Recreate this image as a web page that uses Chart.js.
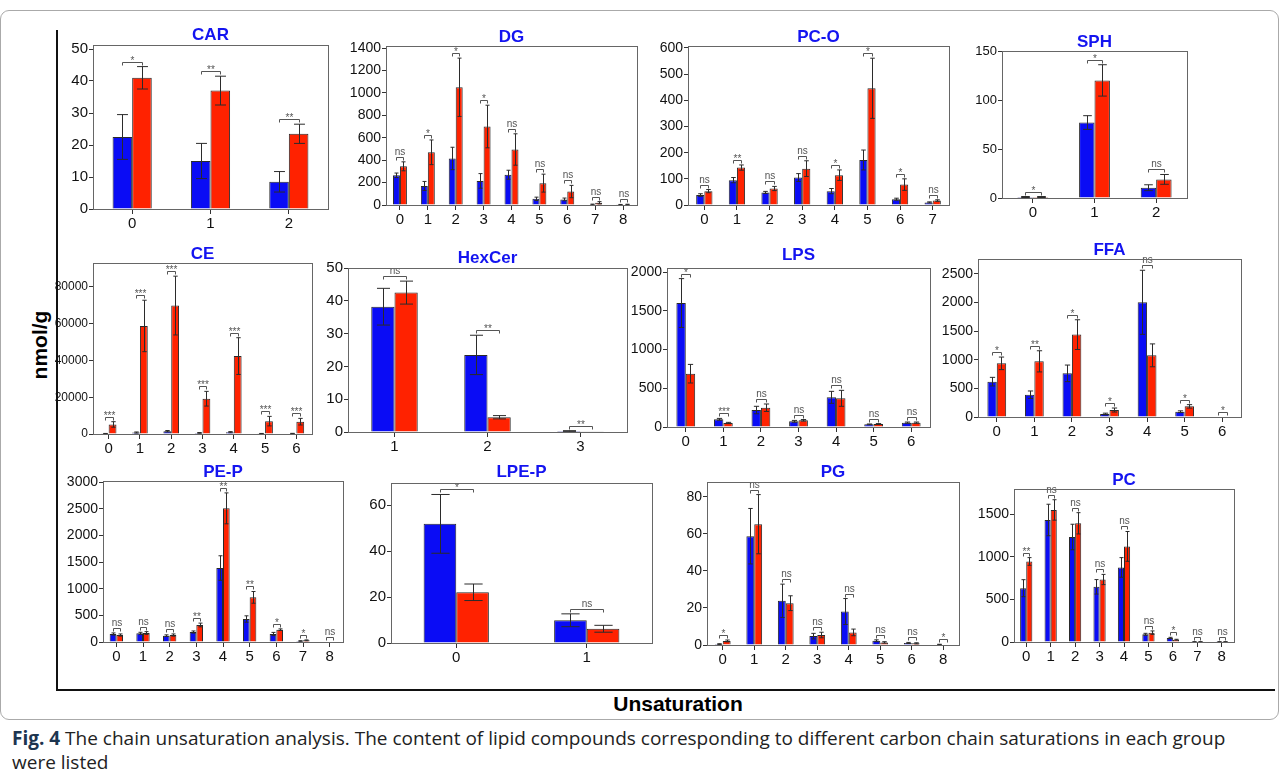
<!DOCTYPE html>
<html>
<head>
<meta charset="utf-8">
<script src="https://cdn.jsdelivr.net/npm/chart.js@4.4.0/dist/chart.umd.min.js"></script>
<style>
  body { margin: 0; background: #fff; width: 1281px; height: 780px; overflow: hidden; position: relative; font-family: "Liberation Sans", Arial, sans-serif; }
  canvas { position: absolute; }
  #frame { position: absolute; left: 0; top: 10px; width: 1277px; height: 708px; border: 1px solid #aaa; border-radius: 9px; }
  #axisL { position: absolute; left: 56px; top: 30px; width: 2px; height: 661px; background: #111; }
  #axisB { position: absolute; left: 56px; top: 689px; width: 1219px; height: 2px; background: #111; }
  #ylab { position: absolute; left: 40px; top: 345px; transform: translate(-50%, -50%) rotate(-90deg); font-weight: bold; font-size: 21px; white-space: nowrap; }
  #xlab { position: absolute; left: 678px; top: 704px; transform: translate(-50%, -50%); font-weight: bold; font-size: 21px; white-space: nowrap; }
  #caption { position: absolute; left: 12px; top: 726px; width: 1245px; font-family: "Open Sans", sans-serif; font-size: 19px; line-height: 24px; color: #222; }
  #caption b { color: #1d3550; }
</style>
</head>
<body>
<div id="frame"></div>
<div id="axisL"></div>
<div id="axisB"></div>
<div id="ylab">nmol/g</div>
<div id="xlab">Unsaturation</div>
<div id="caption"><b>Fig. 4</b> The chain unsaturation analysis. The content of lipid compounds corresponding to different carbon chain saturations in each group were listed</div>

<script>
// ---- data (blue = group 1, red = group 2) ----
var carCats = ["0", "1", "2"];
var carTicks = [0, 10, 20, 30, 40, 50];
var carBlue = [22.5, 15, 8.5];
var carBlueErr = [7, 5.5, 3.2];
var carRed = [41, 37, 23.5];
var carRedErr = [3.5, 4.5, 3];
var carSig = ["*", "**", "**"];

var dgCats = ["0", "1", "2", "3", "4", "5", "6", "7", "8"];
var dgTicks = [0, 200, 400, 600, 800, 1000, 1200, 1400];
var dgBlue = [265, 170, 415, 215, 270, 55, 50, 5, 3];
var dgBlueErr = [20, 40, 100, 65, 40, 15, 12, 3, 2];
var dgRed = [345, 470, 1050, 700, 495, 195, 120, 20, 5];
var dgRedErr = [40, 110, 260, 190, 140, 80, 55, 10, 2];
var dgSig = ["ns", "*", "*", "*", "ns", "ns", "ns", "ns", "ns"];

var pcoCats = ["0", "1", "2", "3", "4", "5", "6", "7"];
var pcoTicks = [0, 100, 200, 300, 400, 500, 600];
var pcoBlue = [38, 95, 48, 105, 53, 172, 22, 10];
var pcoBlueErr = [5, 10, 4, 15, 10, 38, 4, 2];
var pcoRed = [53, 143, 63, 139, 114, 446, 78, 17];
var pcoRedErr = [6, 10, 8, 30, 20, 115, 22, 3];
var pcoSig = ["ns", "**", "ns", "ns", "*", "*", "*", "ns"];

var sphCats = ["0", "1", "2"];
var sphTicks = [0, 50, 100, 150];
var sphBlue = [1, 77, 10.5];
var sphBlueErr = [0.5, 7, 3];
var sphRed = [1, 120, 19];
var sphRedErr = [0.5, 16, 5];
var sphSig = ["*", "*", "ns"];

var ceCats = ["0", "1", "2", "3", "4", "5", "6"];
var ceTicks = [0, 20000, 40000, 60000, 80000];
var ceBlue = [200, 800, 1500, 600, 1000, 200, 250];
var ceBlueErr = [100, 300, 400, 200, 300, 100, 100];
var ceRed = [5200, 58800, 69900, 19200, 42400, 7000, 6700];
var ceRedErr = [1500, 14000, 16000, 4000, 10000, 2600, 1800];
var ceSig = ["***", "***", "***", "***", "***", "***", "***"];

var hexCats = ["1", "2", "3"];
var hexTicks = [0, 10, 20, 30, 40, 50];
var hexBlue = [38.2, 23.5, 0.3];
var hexBlueErr = [5.6, 6, 0.1];
var hexRed = [42.5, 4.5, 0.1];
var hexRedErr = [3.5, 0.5, 0];
var hexSig = ["ns", "**", "**"];

var lpsCats = ["0", "1", "2", "3", "4", "5", "6"];
var lpsTicks = [0, 500, 1000, 1500, 2000];
var lpsBlue = [1600, 99, 219, 73, 383, 34, 56];
var lpsBlueErr = [315, 12, 48, 12, 77, 5, 8];
var lpsRed = [688, 52, 249, 86, 370, 39, 56];
var lpsRedErr = [120, 8, 48, 10, 103, 5, 8];
var lpsSig = ["*", "***", "ns", "ns", "ns", "ns", "ns"];

var ffaCats = ["0", "1", "2", "3", "4", "5", "6"];
var ffaTicks = [0, 500, 1000, 1500, 2000, 2500];
var ffaBlue = [618, 390, 763, 52, 2005, 93, 0];
var ffaBlueErr = [75, 65, 145, 15, 560, 15, 0];
var ffaRed = [938, 973, 1440, 122, 1078, 186, 0];
var ffaRedErr = [110, 185, 260, 35, 200, 30, 0];
var ffaSig = ["*", "**", "*", "*", "ns", "*", "*"];

var pepCats = ["0", "1", "2", "3", "4", "5", "6", "7", "8"];
var pepTicks = [0, 500, 1000, 1500, 2000, 2500, 3000];
var pepBlue = [150, 162, 119, 187, 1387, 431, 150, 19, 0];
var pepBlueErr = [20, 20, 15, 20, 230, 60, 30, 5, 0];
var pepRed = [131, 169, 131, 319, 2506, 837, 231, 31, 0];
var pepRedErr = [20, 25, 20, 35, 290, 110, 15, 8, 0];
var pepSig = ["ns", "ns", "ns", "**", "**", "**", "*", "*", "ns"];

var lpepCats = ["0", "1"];
var lpepTicks = [0, 20, 40, 60];
var lpepBlue = [51.9, 9.9];
var lpepBlueErr = [12.8, 2.8];
var lpepRed = [22.1, 6.2];
var lpepRedErr = [3.6, 1.5];
var lpepSig = ["*", "ns"];

var pgCats = ["0", "1", "2", "3", "4", "5", "6", "8"];
var pgTicks = [0, 20, 40, 60, 80];
var pgBlue = [0.5, 58.8, 23.9, 4.8, 18.1, 2.3, 1.1, 0.3];
var pgBlueErr = [0.2, 15, 9, 1.5, 7, 0.5, 0.3, 0.1];
var pgRed = [2.2, 65.3, 22.6, 5.4, 6.8, 1.4, 0.9, 0];
var pgRedErr = [0.5, 16, 4, 1.5, 1.8, 0.4, 0.3, 0];
var pgSig = ["*", "ns", "ns", "ns", "ns", "ns", "ns", "*"];

var pcCats = ["0", "1", "2", "3", "4", "5", "6", "7", "8"];
var pcTicks = [0, 500, 1000, 1500];
var pcBlue = [632, 1433, 1233, 648, 876, 90, 47, 2, 2];
var pcBlueErr = [100, 185, 150, 85, 115, 12, 8, 1, 1];
var pcRed = [946, 1551, 1394, 734, 1123, 110, 27, 2, 2];
var pcRedErr = [45, 120, 125, 60, 175, 20, 5, 1, 1];
var pcSig = ["**", "ns", "ns", "ns", "ns", "ns", "*", "ns", "ns"];

// ---- where each panel sits on the page (plot box L,T,R,B) ----
var panels = [
  { title: "CAR", cats: carCats, ticks: carTicks, blue: carBlue, blueErr: carBlueErr, red: carRed, redErr: carRedErr, sig: carSig,
    L: 93, T: 45, R: 328, B: 209, titleY: 35, max: 51.25, yFont: 15 },
  { title: "DG", cats: dgCats, ticks: dgTicks, blue: dgBlue, blueErr: dgBlueErr, red: dgRed, redErr: dgRedErr, sig: dgSig,
    L: 386, T: 46, R: 637, B: 205, titleY: 39, max: 1418, yFont: 14 },
  { title: "PC-O", cats: pcoCats, ticks: pcoTicks, blue: pcoBlue, blueErr: pcoBlueErr, red: pcoRed, redErr: pcoRedErr, sig: pcoSig,
    L: 688, T: 46, R: 949, B: 205, titleY: 38, max: 607.6, yFont: 14 },
  { title: "SPH", cats: sphCats, ticks: sphTicks, blue: sphBlue, blueErr: sphBlueErr, red: sphRed, redErr: sphRedErr, sig: sphSig,
    L: 1002, T: 51, R: 1187, B: 198, titleY: 42, max: 150, yFont: 13 },
  { title: "CE", cats: ceCats, ticks: ceTicks, blue: ceBlue, blueErr: ceBlueErr, red: ceRed, redErr: ceRedErr, sig: ceSig,
    L: 93, T: 263, R: 312, B: 434, titleY: 254, max: 93060, yFont: 12 },
  { title: "HexCer", cats: hexCats, ticks: hexTicks, blue: hexBlue, blueErr: hexBlueErr, red: hexRed, redErr: hexRedErr, sig: hexSig,
    L: 348, T: 268, R: 627, B: 432, titleY: 258, max: 50, yFont: 15 },
  { title: "LPS", cats: lpsCats, ticks: lpsTicks, blue: lpsBlue, blueErr: lpsBlueErr, red: lpsRed, redErr: lpsRedErr, sig: lpsSig,
    L: 667, T: 268, R: 930, B: 427, titleY: 255, max: 2052, yFont: 14 },
  { title: "FFA", cats: ffaCats, ticks: ffaTicks, blue: ffaBlue, blueErr: ffaBlueErr, red: ffaRed, redErr: ffaRedErr, sig: ffaSig,
    L: 978, T: 259, R: 1241, B: 417, titleY: 250, max: 2762, yFont: 14 },
  { title: "PE-P", cats: pepCats, ticks: pepTicks, blue: pepBlue, blueErr: pepBlueErr, red: pepRed, redErr: pepRedErr, sig: pepSig,
    L: 103, T: 481, R: 343, B: 642, titleY: 474, max: 3019, yFont: 14 },
  { title: "LPE-P", cats: lpepCats, ticks: lpepTicks, blue: lpepBlue, blueErr: lpepBlueErr, red: lpepRed, redErr: lpepRedErr, sig: lpepSig,
    L: 391, T: 483, R: 652, B: 643, titleY: 472, max: 69.7, yFont: 15 },
  { title: "PG", cats: pgCats, ticks: pgTicks, blue: pgBlue, blueErr: pgBlueErr, red: pgRed, redErr: pgRedErr, sig: pgSig,
    L: 707, T: 482, R: 959, B: 645, titleY: 472, max: 88.1, yFont: 14 },
  { title: "PC", cats: pcCats, ticks: pcTicks, blue: pcBlue, blueErr: pcBlueErr, red: pcRed, redErr: pcRedErr, sig: pcSig,
    L: 1014, T: 489, R: 1234, B: 642, titleY: 482, max: 1797, yFont: 14 }
];

var FONT = "'Liberation Sans', Arial, sans-serif";

// error bars, significance brackets and the plot frame
var markPlugin = {
  id: "marks",
  afterDatasetsDraw: function (chart) {
    var ctx = chart.ctx;
    var y = chart.scales.y;
    var sig = chart.options.plugins.marks.sig;
    var metaB = chart.getDatasetMeta(0);
    var metaR = chart.getDatasetMeta(1);

    ctx.save();
    ctx.strokeStyle = "#2b2b2b";
    ctx.lineWidth = 1;
    [0, 1].forEach(function (d) {
      var ds = chart.data.datasets[d];
      chart.getDatasetMeta(d).data.forEach(function (bar, i) {
        var v = ds.data[i], e = ds.err[i];
        if (!e) return;
        var x = Math.round(bar.x) + 0.5;
        var yt = y.getPixelForValue(v + e), yb = y.getPixelForValue(Math.max(0, v - e));
        var cap = Math.max(2, bar.width * 0.28);
        ctx.beginPath();
        ctx.moveTo(x, yt); ctx.lineTo(x, yb);
        ctx.moveTo(x - cap, yt); ctx.lineTo(x + cap, yt);
        ctx.moveTo(x - cap, yb); ctx.lineTo(x + cap, yb);
        ctx.stroke();
      });
    });

    ctx.strokeStyle = "#555";
    ctx.fillStyle = "#555";
    ctx.font = "10px " + FONT;
    ctx.textAlign = "center";
    ctx.textBaseline = "bottom";
    var dsB = chart.data.datasets[0], dsR = chart.data.datasets[1];
    for (var i = 0; i < sig.length; i++) {
      var xb = Math.round(metaB.data[i].x) + 0.5, xr = Math.round(metaR.data[i].x) + 0.5;
      var top = Math.min(y.getPixelForValue(dsB.data[i] + dsB.err[i]), y.getPixelForValue(dsR.data[i] + dsR.err[i]));
      var yl = Math.round(top - 5) + 0.5;
      ctx.beginPath();
      ctx.moveTo(xb, yl + 3); ctx.lineTo(xb, yl); ctx.lineTo(xr, yl); ctx.lineTo(xr, yl + 3);
      ctx.stroke();
      ctx.fillText(sig[i], (xb + xr) / 2, yl + (sig[i] === "ns" ? 0 : 4));
    }

    var a = chart.chartArea;
    ctx.strokeStyle = "#666";
    ctx.strokeRect(Math.round(a.left) + 0.5, Math.round(a.top) + 0.5, Math.round(a.right - a.left), Math.round(a.bottom - a.top));
    ctx.restore();
  }
};

function makePanel(p) {
  var yW = 44, xH = 26, tSize = 17;
  var top = Math.round(p.titleY - tSize / 2);
  var padB = p.T - top - tSize;
  if (padB < 0) { padB = 0; top = p.T - tSize; }
  var left = p.L - yW;
  var w = p.R - p.L + yW + 3;
  var h = p.B - top + xH;

  var cv = document.createElement("canvas");
  cv.width = w; cv.height = h;
  cv.style.left = left + "px"; cv.style.top = top + "px";
  cv.style.width = w + "px"; cv.style.height = h + "px";
  document.body.appendChild(cv);

  new Chart(cv, {
    type: "bar",
    data: {
      labels: p.cats,
      datasets: [
        { data: p.blue, err: p.blueErr, backgroundColor: "#0a0cf5", borderColor: "#2a2a2a", borderWidth: 1,
          categoryPercentage: 0.5, barPercentage: 1 },
        { data: p.red, err: p.redErr, backgroundColor: "#ff2200", borderColor: "#2a2a2a", borderWidth: 1,
          categoryPercentage: 0.5, barPercentage: 1 }
      ]
    },
    options: {
      responsive: false,
      animation: false,
      layout: { padding: { left: 0, right: 3, top: 0, bottom: 0 } },
      plugins: {
        legend: { display: false },
        tooltip: { enabled: false },
        title: {
          display: true, text: p.title, color: "#1414f0", fullSize: false,
          font: { family: FONT, size: tSize, weight: "bold", lineHeight: 1 },
          padding: { top: 0, bottom: padB }
        },
        marks: { sig: p.sig }
      },
      scales: {
        x: {
          grid: { offset: false, drawOnChartArea: false, tickLength: 5, color: "#333" },
          border: { color: "#666" },
          ticks: { font: { family: FONT, size: 15 }, color: "#111", padding: 1, maxRotation: 0, autoSkip: false },
          afterFit: function (s) { s.height = xH; }
        },
        y: {
          min: 0, max: p.max,
          grid: { drawOnChartArea: false, tickLength: 4, color: "#333" },
          border: { color: "#666" },
          ticks: {
            font: { family: FONT, size: p.yFont }, color: "#111", padding: 1,
            callback: function (v) { return String(v); }
          },
          afterBuildTicks: function (s) {
            s.ticks = p.ticks.map(function (v) { return { value: v }; });
          },
          afterFit: function (s) { s.width = yW; }
        }
      }
    },
    plugins: [markPlugin]
  });
}

panels.forEach(makePanel);
</script>
</body>
</html>
